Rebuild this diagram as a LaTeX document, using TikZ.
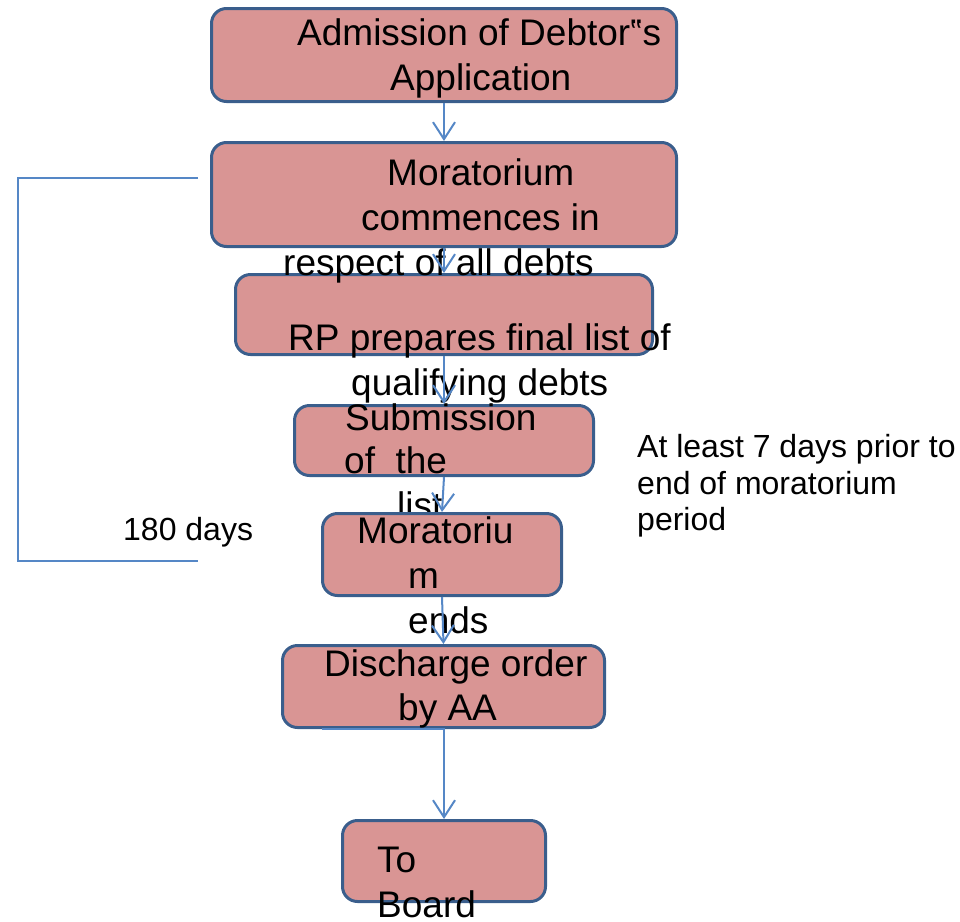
\documentclass[tikz,border=0pt]{standalone}
\usepackage{fontspec}
\setmainfont{Liberation Sans}
\usetikzlibrary{arrows.meta}
\definecolor{boxfill}{HTML}{D99594}
\definecolor{boxline}{HTML}{3A5E8C}
\definecolor{linkblue}{HTML}{5587C6}
\tikzset{
  stepbox/.style={draw=boxline, fill=boxfill, line width=3pt, rounded corners=15pt, inner sep=0pt},
  boxtxt/.style={font=\fontsize{37}{44}\selectfont, inner sep=0pt, anchor=base west},
  sidetxt/.style={font=\fontsize{32}{37}\selectfont, inner sep=0pt, anchor=base west},
  conn/.style={draw=linkblue, line width=2pt, -{Straight Barb[length=17pt,width=22pt,line width=2pt]}},
  bracket/.style={draw=linkblue, line width=1.6pt}
}
\begin{document}
\begin{tikzpicture}[x=1pt,y=-1pt]
\useasboundingbox (0,0) rectangle (960,921);

% upper boxes
\node[stepbox, minimum width=465pt, minimum height=93pt] (b1) at (444,55) {};
\node[stepbox, minimum width=465pt, minimum height=104pt] (b2) at (444,194.5) {};
\node[stepbox, minimum width=417pt, minimum height=80pt] (b3) at (444,314.5) {};
\node[stepbox, minimum width=299pt, minimum height=70pt] (b4) at (444,440.5) {};

% their labels
\node[boxtxt] (t1a) at (297,45) {Admission of Debtor‟s};
\node[boxtxt] (t1b) at (390,90) {Application};
\node[boxtxt] (t2a) at (387,185) {Moratorium};
\node[boxtxt] (t2b) at (361,230) {commences in};
\node[boxtxt] (t2c) at (283,275) {respect of all debts};
\node[boxtxt] (t3a) at (288,350) {RP prepares final list of};
\node[boxtxt] (t3b) at (351,395) {qualifying debts};
\node[boxtxt] (t4a) at (345,430) {Submission};
\node[boxtxt] (t4b) at (344,473) {of\ \ the};
\node[boxtxt] (t4c) at (397,518) {list};

% lower boxes
\node[stepbox, minimum width=239pt, minimum height=82pt] (b5) at (442,554.5) {};
\node[boxtxt] (t5a) at (357,543) {Moratoriu};
\node[boxtxt] (t5b) at (408,588) {m};
\node[boxtxt] (t5c) at (408,633) {ends};
\node[stepbox, minimum width=322pt, minimum height=82pt] (b6) at (443.5,686.5) {};
\node[boxtxt] (t6a) at (324,676) {Discharge order};
\node[boxtxt] (t6b) at (398,720) {by AA};
\node[stepbox, minimum width=203pt, minimum height=81pt] (b7) at (444,861) {};
\node[boxtxt] (t7a) at (377,872) {To};
\node[boxtxt] (t7b) at (377,917) {Board};

% side notes
\node[sidetxt] (days) at (123,540) {180 days};
\node[sidetxt] (note1) at (637,457) {At least 7 days prior to};
\node[sidetxt] (note2) at (637,494) {end of moratorium};
\node[sidetxt] (note3) at (637,530) {period};

% bracket spanning the moratorium period
\coordinate (brTop) at (198,178);
\coordinate (brTopL) at (18,178);
\coordinate (brBotL) at (18,561);
\coordinate (brBot) at (198,561);
\draw[bracket] (brTop) -- (brTopL) -- (brBotL) -- (brBot);

% flow connectors
\draw[conn] (b1.south) -- (b2.north);
\draw[conn] (b2.south) -- (b3.north);
\draw[conn] (b3.south) -- (b4.north);
\draw[conn] (b4.south) -- (b5.north);
\draw[conn] (b5.south) -- (b6.north);
\coordinate (hook) at (322,729);
\draw[conn] (hook) -| (b7.north);
\end{tikzpicture}
\end{document}
